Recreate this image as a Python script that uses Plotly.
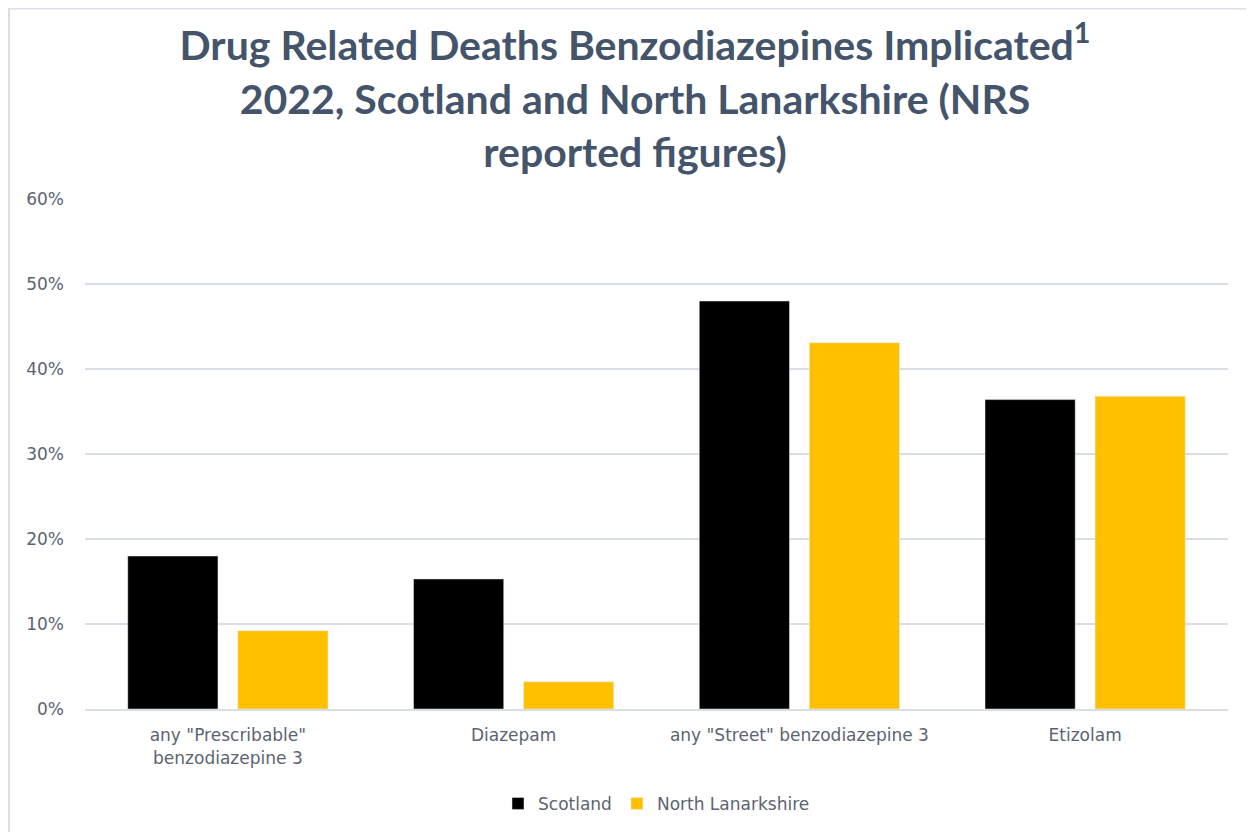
import plotly.graph_objects as go

categories = ['any "Prescribable"<br>benzodiazepine 3', "Diazepam",
              'any "Street" benzodiazepine 3', "Etizolam"]
scotland = [0.180, 0.153, 0.480, 0.364]
north_lanarkshire = [0.092, 0.032, 0.431, 0.368]
y_ticks = [0, 0.1, 0.2, 0.3, 0.4, 0.5, 0.6]

text_col = "#5b6372"
grid_col = "#d9dde6"

fig = go.Figure()
fig.add_trace(go.Bar(x=categories, y=scotland, name="Scotland",
                     marker_color="#000000"))
fig.add_trace(go.Bar(x=categories, y=north_lanarkshire, name="North Lanarkshire",
                     marker_color="#ffc000"))

# the page adds an 8px body margin, so margins are shifted by that
fig.update_layout(
    width=1254, height=832,
    paper_bgcolor="white", plot_bgcolor="white",
    margin=dict(l=77, r=34, t=191, b=131),
    barmode="group", bargap=0.23, bargroupgap=0.18,
    title=dict(
        text="Drug Related Deaths Benzodiazepines Implicated<sup>1</sup><br>"
             "2022, Scotland and North Lanarkshire (NRS<br>reported figures)",
        x=0.5, xanchor="center", y=0.937, yanchor="top",
        font=dict(family="Lato", size=41, color="#44546a", weight="bold"),
    ),
    font=dict(family="DejaVu Sans", color=text_col),
    legend=dict(orientation="h", x=0.5, xanchor="center", y=-0.186, yanchor="middle",
                font=dict(size=17, color=text_col), traceorder="normal"),
    showlegend=True,
)
fig.update_xaxes(showgrid=False, showline=True, linecolor=grid_col, linewidth=2,
                 ticks="", ticklabelstandoff=10,
                 tickfont=dict(size=17, color=text_col))
fig.update_yaxes(range=[0, 0.6], tickvals=y_ticks, tickformat=".0%",
                 showgrid=True, gridcolor=grid_col, gridwidth=1.5,
                 zeroline=False, showline=False, ticks="", ticklabelstandoff=20,
                 tickfont=dict(size=17, color=text_col))

fig.add_shape(type="rect", xref="paper", yref="paper",
              x0=-0.0665, x1=1.1, y0=-0.35, y1=1.3735,
              line=dict(color="#d9dde6", width=2), layer="below")

fig.write_html("out.html")
